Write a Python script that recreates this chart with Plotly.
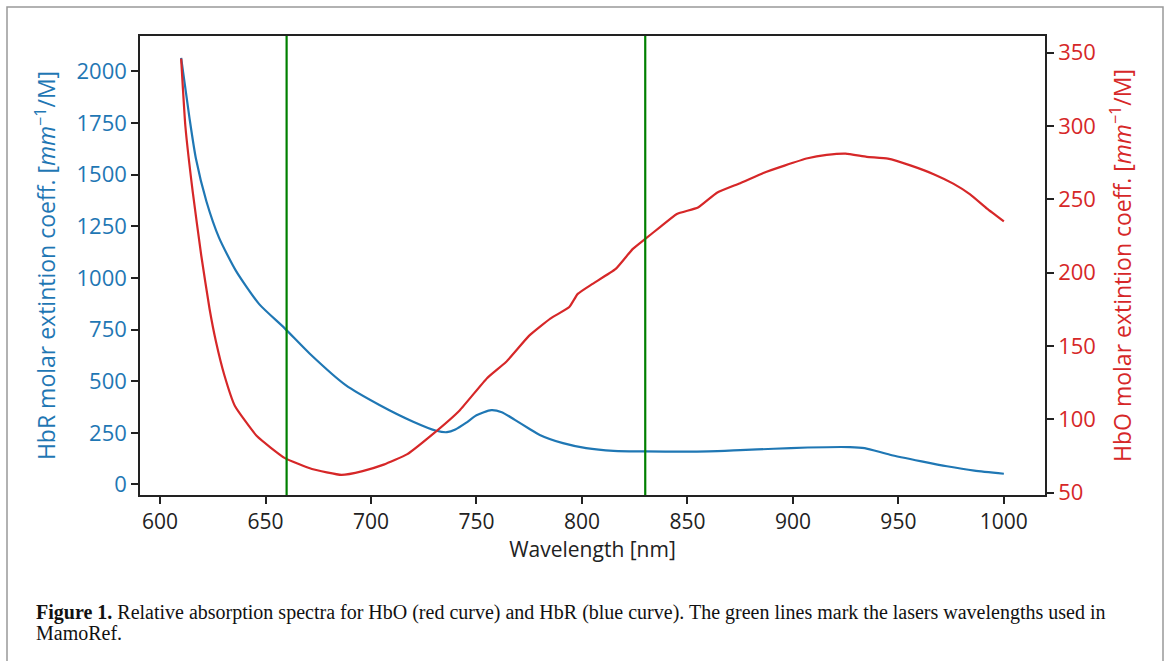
import plotly.graph_objects as go

# HbR (blue, left axis)
hbr_wl = [610, 614, 617, 622, 628, 636, 647, 659, 671, 688, 704, 720, 731, 736,
          740, 745, 750, 757, 762, 768, 775, 780, 791, 802, 815, 830, 860, 875,
          891, 907, 927, 934, 946, 961, 973, 986, 1000]
hbr_val = [2065, 1771, 1578, 1370, 1194, 1034, 873, 757, 633, 481, 385, 304, 260, 253,
           266, 298, 335, 360, 350, 314, 270, 240, 200, 176, 163, 160, 160, 166,
           173, 179, 181, 176, 144, 112, 88, 67, 52]

# HbO (red, right axis)
hbo_wl = [610, 612, 615.5, 619.5, 623.5, 626.5, 630.5, 635.5, 646, 659, 672, 686, 696, 706, 717, 729,
          742, 755, 764, 775, 785, 794, 798, 805, 816, 824, 830, 837, 845, 855, 864,
          875, 886, 896, 907, 916, 925, 935, 945, 956, 967, 976, 984, 992, 1000]
hbo_val = [346, 300, 255, 212, 175, 153, 130, 109, 88.3, 73.6, 66, 62, 64.6, 69, 76, 89.5,
           106, 128, 139, 157, 168.6, 176.5, 185.5, 192.3, 202.5, 216, 223, 231, 240, 244.4, 254.5,
           261, 268, 273, 278, 280.3, 281.2, 279, 277.8, 273, 267, 260.7, 253.4, 243.7, 235]

lasers = [660, 830]

x_ticks = [600, 650, 700, 750, 800, 850, 900, 950, 1000]
left_ticks = [0, 250, 500, 750, 1000, 1250, 1500, 1750, 2000]
right_ticks = [50, 100, 150, 200, 250, 300, 350]

BLUE = "#1f77b4"
RED = "#d62728"
GREEN = "#008000"
FONT = "Open Sans"

fig = go.Figure()
fig.add_trace(go.Scatter(x=hbr_wl, y=hbr_val, mode="lines",
                         line=dict(color=BLUE, width=2.2, shape="spline", smoothing=0.6),
                         yaxis="y", showlegend=False))
fig.add_trace(go.Scatter(x=hbo_wl, y=hbo_val, mode="lines",
                         line=dict(color=RED, width=2.2, shape="spline", smoothing=0.4),
                         yaxis="y2", showlegend=False))

for w in lasers:
    fig.add_shape(type="line", xref="x", yref="paper", x0=w, x1=w, y0=0, y1=1,
                  line=dict(color=GREEN, width=2.2), layer="above")

# outer frame
L, R, T, B = 140, 123, 36, 166
W = 1168 - L - R
H = 661 - T - B
def px(x):
    return (x - L) / W
def py(y):
    return (661 - B - y) / H

fig.add_shape(type="rect", xref="paper", yref="paper",
              x0=px(7), x1=px(1163), y0=py(700), y1=py(7),
              line=dict(color="#999999", width=1.5), fillcolor="rgba(0,0,0,0)")

fig.add_annotation(xref="paper", yref="paper", x=px(34), y=py(612), xanchor="left",
                   yanchor="middle", showarrow=False, align="left",
                   text="<b>Figure 1.</b> Relative absorption spectra for HbO (red curve) and HbR (blue curve). "
                        "The green lines mark the lasers wavelengths used in",
                   font=dict(family="Liberation Serif", size=20, color="#111111"))
fig.add_annotation(xref="paper", yref="paper", x=px(34), y=py(633), xanchor="left",
                   yanchor="middle", showarrow=False, align="left",
                   text="MamoRef.",
                   font=dict(family="Liberation Serif", size=20, color="#111111"))

fig.update_layout(
    width=1168, height=661,
    margin=dict(l=L, r=R, t=T, b=B),
    paper_bgcolor="white", plot_bgcolor="white",
    font=dict(family=FONT, size=21, color="#222222"),
    xaxis=dict(range=[590.5, 1019.5], tickvals=x_ticks, ticks="outside", ticklen=7,
               tickwidth=1.5, tickcolor="#222", showline=True, linecolor="#222", linewidth=1.5,
               mirror=True, showgrid=False, zeroline=False,
               title=dict(text="Wavelength [nm]", standoff=4, font=dict(size=21, color="#222222")),
               tickfont=dict(size=21, color="#222222")),
    yaxis=dict(range=[-51, 2171], tickvals=left_ticks, ticks="outside", ticklen=7,
               tickwidth=1.5, tickcolor="#222", showline=True, linecolor="#222", linewidth=1.5,
               showgrid=False, zeroline=False,
               tickfont=dict(size=22, color=BLUE),
               title=dict(text="HbR molar extintion coeff. [<i>mm</i><sup>−1</sup>/M]",
                          standoff=14, font=dict(size=23, color=BLUE))),
    yaxis2=dict(range=[48.3, 361.4], tickvals=right_ticks, ticks="outside", ticklen=7,
                tickwidth=1.5, tickcolor="#222", showline=True, linecolor="#222", linewidth=1.5,
                overlaying="y", side="right", showgrid=False, zeroline=False,
                tickfont=dict(size=22, color=RED),
                title=dict(text="HbO molar extintion coeff. [<i>mm</i><sup>−1</sup>/M]",
                           standoff=20, font=dict(size=23, color=RED))),
)

fig.write_html("out.html")
